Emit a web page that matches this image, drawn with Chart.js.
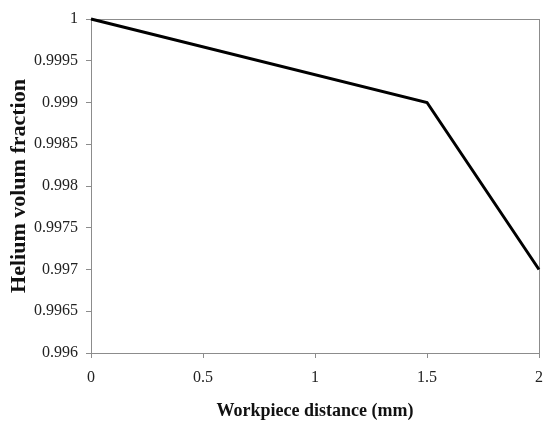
<!DOCTYPE html>
<html>
<head>
<meta charset="utf-8">
<script src="https://cdn.jsdelivr.net/npm/chart.js@4.4.0/dist/chart.umd.min.js"></script>
<style>
  html, body { margin: 0; padding: 0; background: #fff; }
  #wrap { width: 544px; height: 422px; }
</style>
</head>
<body>
<div id="wrap"><canvas id="chart"></canvas></div>
<script>
// data
const distance = [0, 1.5, 2];
const heliumFraction = [1, 0.999, 0.997];
const xTicks = [0, 0.5, 1, 1.5, 2];
const yTicks = [0.996, 0.9965, 0.997, 0.9975, 0.998, 0.9985, 0.999, 0.9995, 1];

const axisGrey = "#8c8c8c";
const serif = "'Liberation Serif', 'Times New Roman', serif";

const points = distance.map(function (x, i) {
  return { x: x, y: heliumFraction[i] };
});

function tickLabel(v) {
  return String(+v.toFixed(4));
}

var ctx = document.getElementById("chart").getContext("2d");
var chart = new Chart(ctx, {
  type: "line",
  data: {
    datasets: [
      {
        data: points,
        borderColor: "#000",
        borderWidth: 3,
        pointRadius: 0,
        tension: 0,
        clip: false,
      },
    ],
  },
  options: {
    responsive: true,
    maintainAspectRatio: false,
    animation: false,
    layout: { padding: { left: 0, right: 5, top: 19, bottom: 0 } },
    plugins: { legend: { display: false }, tooltip: { enabled: false } },
    scales: {
      x: {
        type: "linear",
        min: 0,
        max: 2,
        afterBuildTicks: function (s) {
          s.ticks = xTicks.map(function (v) { return { value: v }; });
        },
        afterFit: function (s) {
          s.height = 69;
          s.paddingRight = 0;
          s.paddingLeft = 0;
        },
        grid: { drawOnChartArea: false, tickLength: 5, color: axisGrey },
        border: { color: axisGrey, width: 1 },
        ticks: {
          color: "#222",
          font: { family: serif, size: 16 },
          padding: 10,
          maxRotation: 0,
          callback: tickLabel,
        },
        title: {
          display: true,
          text: "Workpiece distance (mm)",
          color: "#111",
          font: { family: serif, size: 18, weight: "bold" },
          padding: { top: 4, bottom: 0 },
        },
      },
      x2: {
        type: "linear",
        position: "top",
        min: 0,
        max: 2,
        afterFit: function (s) { s.height = 0; },
        grid: { display: false },
        border: { color: axisGrey, width: 1 },
        ticks: { display: false },
      },
      y: {
        type: "linear",
        min: 0.996,
        max: 1,
        afterBuildTicks: function (s) {
          s.ticks = yTicks.map(function (v) { return { value: v }; });
        },
        afterFit: function (s) { s.width = 91; },
        grid: { drawOnChartArea: false, tickLength: 5, color: axisGrey },
        border: { color: axisGrey, width: 1 },
        ticks: {
          color: "#222",
          font: { family: serif, size: 16 },
          padding: 8,
          callback: tickLabel,
        },
        title: {
          display: true,
          text: "Helium volum fraction",
          color: "#111",
          font: { family: serif, size: 22, weight: "bold" },
          padding: { top: 6, bottom: 0 },
        },
      },
      y2: {
        type: "linear",
        position: "right",
        min: 0.996,
        max: 1,
        afterFit: function (s) { s.width = 0; },
        grid: { display: false },
        border: { color: axisGrey, width: 1 },
        ticks: { display: false },
      },
    },
  },
});
</script>
</body>
</html>
